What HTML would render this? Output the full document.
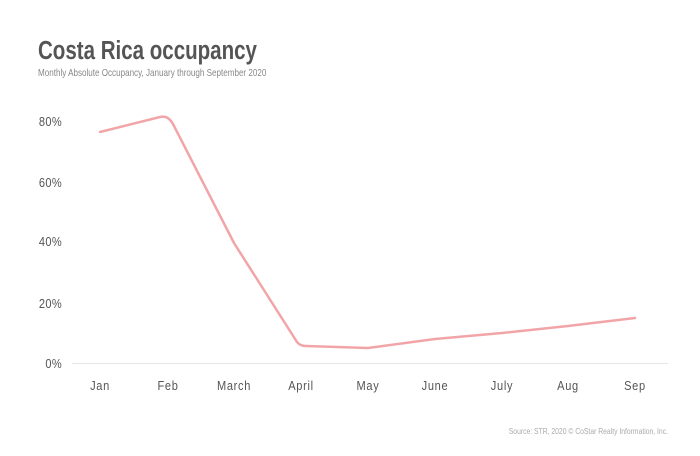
<!DOCTYPE html>
<html><head><meta charset="utf-8"><style>
html,body{margin:0;padding:0;background:#fff;}
svg text{font-family:"Liberation Sans",sans-serif;}
</style></head><body>
<svg width="700" height="451" viewBox="0 0 700 451" xmlns="http://www.w3.org/2000/svg">
<rect width="700" height="451" fill="#fff"/>
<text x="38" y="59" font-size="26" font-weight="bold" fill="#555" transform="translate(38 0) scale(0.79 1) translate(-38 0)">Costa Rica occupancy</text>
<text x="38" y="76" font-size="10.5" fill="#888" transform="translate(38 0) scale(0.77 1) translate(-38 0)">Monthly Absolute Occupancy, January through September 2020</text>
<g font-size="13" fill="#555" text-anchor="end" letter-spacing="0.4">
<text x="62" y="126" transform="translate(62 0) scale(0.85 1) translate(-62 0)">80%</text>
<text x="62" y="187" transform="translate(62 0) scale(0.85 1) translate(-62 0)">60%</text>
<text x="62" y="246" transform="translate(62 0) scale(0.85 1) translate(-62 0)">40%</text>
<text x="62" y="308" transform="translate(62 0) scale(0.85 1) translate(-62 0)">20%</text>
<text x="62" y="368" transform="translate(62 0) scale(0.85 1) translate(-62 0)">0%</text>
</g>
<line x1="72" y1="363.5" x2="668" y2="363.5" stroke="#e6e6e6" stroke-width="1"/>
<g font-size="13" fill="#555" text-anchor="middle" letter-spacing="0.8">
<text x="100" y="390" transform="translate(100 0) scale(0.85 1) translate(-100 0)">Jan</text>
<text x="168" y="390" transform="translate(168 0) scale(0.85 1) translate(-168 0)">Feb</text>
<text x="234" y="390" transform="translate(234 0) scale(0.85 1) translate(-234 0)">March</text>
<text x="301" y="390" transform="translate(301 0) scale(0.85 1) translate(-301 0)">April</text>
<text x="368" y="390" transform="translate(368 0) scale(0.85 1) translate(-368 0)">May</text>
<text x="435" y="390" transform="translate(435 0) scale(0.85 1) translate(-435 0)">June</text>
<text x="502" y="390" transform="translate(502 0) scale(0.85 1) translate(-502 0)">July</text>
<text x="568" y="390" transform="translate(568 0) scale(0.85 1) translate(-568 0)">Aug</text>
<text x="635" y="390" transform="translate(635 0) scale(0.85 1) translate(-635 0)">Sep</text>
</g>
<path d="M100,132 L160,117 Q168,115 173,124 L234,243 L297,342 Q300,346 306,346 L368,348 L435,339 L502,333 L568,326 L635,318" fill="none" stroke="#f2a5a8" stroke-width="2.5" stroke-linejoin="round" stroke-linecap="round"/>
<text x="668" y="434" font-size="8" fill="#aaa" text-anchor="end" transform="translate(668 0) scale(0.85 1) translate(-668 0)">Source: STR, 2020 © CoStar Realty Information, Inc.</text>
</svg>
</body></html>
